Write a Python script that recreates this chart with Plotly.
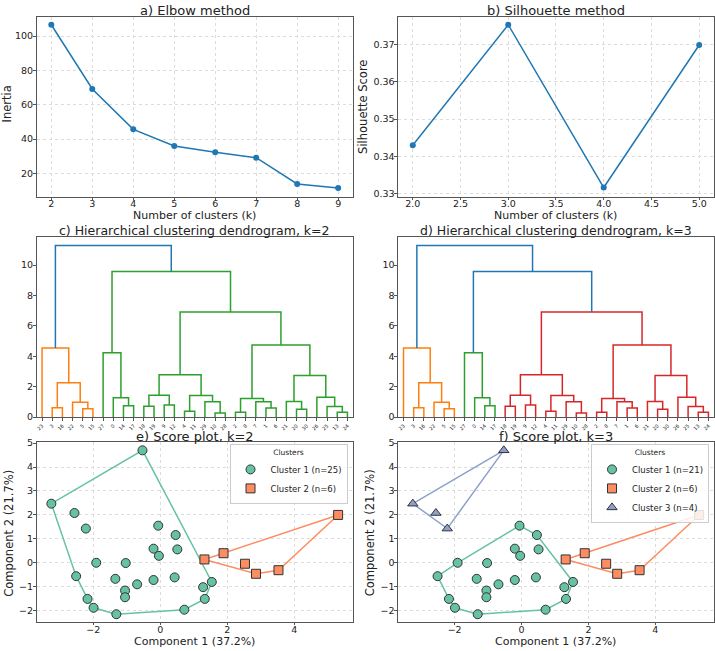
import plotly.graph_objects as go

W, H = 715, 651

# ---------------- data ----------------
# a) Elbow
k_elbow = [2, 3, 4, 5, 6, 7, 8, 9]
inertia = [106.6, 69.2, 45.7, 36.0, 32.4, 29.2, 13.9, 11.5]

# b) Silhouette
k_sil = [2, 3, 4, 5]
silhouette = [0.3430, 0.3752, 0.3317, 0.3698]

# c/d) Dendrogram: leaf order and merges (left id, right id, height);
# ids >= 31 refer to earlier merges (31 + index)
leaf_order = [23, 3, 16, 22, 5, 15, 27, 0, 14, 17, 18, 19, 9, 12, 4, 11, 29, 10, 28,
              2, 8, 7, 1, 6, 21, 20, 30, 26, 25, 13, 24]
merges = [
    (3, 16, 0.62), (5, 15, 0.54), (22, 32, 0.97), (31, 33, 2.25), (23, 34, 4.55),
    (14, 17, 0.75), (0, 36, 1.27), (27, 37, 4.23),
    (18, 19, 0.71), (9, 12, 0.79), (39, 40, 1.44), (4, 11, 0.39), (10, 28, 0.26),
    (29, 43, 1.01), (42, 44, 1.42), (41, 45, 2.79),
    (2, 8, 0.32), (1, 6, 0.60), (7, 48, 1.01), (47, 49, 1.22),
    (20, 30, 0.52), (21, 51, 1.03), (13, 24, 0.32), (25, 53, 0.69), (26, 54, 1.31),
    (52, 55, 2.73), (50, 56, 4.74), (46, 57, 6.91), (38, 58, 9.57), (35, 59, 11.29),
]
thresh_k2 = 10.4
thresh_k3 = 8.2

# e/f) Score plot points (PC1, PC2)
grpA_x = [-1.91, -1.03, -2.51, -1.34, -0.69, -1.05, -1.05, -2.17, -1.99, -1.31, 0.72,
          1.33, 1.28, 1.54, -0.20, 0.43, -0.20, -0.04, 0.51, 0.46, -0.06]
grpA_y = [0.00, -0.01, -0.56, -0.67, -0.90, -1.16, -1.44, -1.51, -1.88, -2.15, -1.96,
          -1.51, -1.02, -0.80, -0.72, -0.61, 0.59, 0.29, 0.56, 1.16, 1.55]
grpB_x = [-0.53, -3.25, -2.56, -2.22]
grpB_y = [4.70, 2.47, 2.08, 1.43]
grpC_x = [1.32, 1.89, 2.53, 2.86, 3.53, 5.31]
grpC_y = [0.14, 0.40, -0.04, -0.46, -0.31, 2.00]

# ---------------- helpers ----------------
FONT = "DejaVu Sans"
def px_x(p): return p / W
def px_y(p): return 1 - p / H

colX = [(px_x(36), px_x(352)), (px_x(398), px_x(713.5))]
rowY = [(px_y(194.5), px_y(11.7)), (px_y(418.5), px_y(235.5)), (px_y(627), px_y(444))]

def hull(xs, ys):
    pts = sorted(set(zip(xs, ys)))
    if len(pts) < 3:
        return pts
    def cross(o, a, b):
        return (a[0]-o[0])*(b[1]-o[1]) - (a[1]-o[1])*(b[0]-o[0])
    lower, upper = [], []
    for p in pts:
        while len(lower) >= 2 and cross(lower[-2], lower[-1], p) <= 0:
            lower.pop()
        lower.append(p)
    for p in reversed(pts):
        while len(upper) >= 2 and cross(upper[-2], upper[-1], p) <= 0:
            upper.pop()
        upper.append(p)
    h = lower[:-1] + upper[:-1]
    return h + [h[0]]

fig = go.Figure()

# a) elbow
fig.add_trace(go.Scatter(x=k_elbow, y=inertia, mode="lines+markers",
                         line=dict(color="#1f77b4", width=1.5),
                         marker=dict(size=6, color="#1f77b4"),
                         xaxis="x", yaxis="y", showlegend=False))
# b) silhouette
fig.add_trace(go.Scatter(x=k_sil, y=silhouette, mode="lines+markers",
                         line=dict(color="#1f77b4", width=1.5),
                         marker=dict(size=6, color="#1f77b4"),
                         xaxis="x2", yaxis="y2", showlegend=False))

# c/d) dendrograms
def dendro(threshold, xa, ya):
    n = len(leaf_order)
    pos = {leaf: 5 + 10 * i for i, leaf in enumerate(leaf_order)}
    hgt = {leaf: 0.0 for leaf in leaf_order}
    children = {}
    for i, (a, b, h) in enumerate(merges):
        nid = n + i
        pos[nid] = (pos[a] + pos[b]) / 2
        hgt[nid] = h
        children[nid] = (a, b)
    root = n + len(merges) - 1
    palette = ["#ff7f0e", "#2ca02c", "#d62728", "#9467bd"]
    color_of = {}
    cidx = [0]
    def walk(node, col):
        if node not in children:
            return
        if col is None and hgt[node] < threshold:
            col = palette[cidx[0]]
            cidx[0] += 1
        color_of[node] = col if col is not None else "#1f77b4"
        a, b = children[node]
        walk(a, col)
        walk(b, col)
    walk(root, None)
    segs = {}
    for nid, (a, b) in children.items():
        c = color_of[nid]
        xs, ys = segs.setdefault(c, ([], []))
        xs += [pos[a], pos[a], pos[b], pos[b], None]
        ys += [hgt[a], hgt[nid], hgt[nid], hgt[b], None]
    for c, (xs, ys) in segs.items():
        fig.add_trace(go.Scatter(x=xs, y=ys, mode="lines",
                                 line=dict(color=c, width=1.5),
                                 xaxis=xa, yaxis=ya, showlegend=False,
                                 hoverinfo="skip"))

dendro(thresh_k2, "x3", "y3")
dendro(thresh_k3, "x4", "y4")

# e/f) score plots
GREEN, ORANGE, BLUE = "#66c2a5", "#fc8d62", "#8da0cb"
def score(groups, xa, ya, legend):
    for name, xs, ys, col, sym in groups:
        hx, hy = zip(*hull(xs, ys))
        fig.add_trace(go.Scatter(x=hx, y=hy, mode="lines",
                                 line=dict(color=col, width=1.5),
                                 xaxis=xa, yaxis=ya, showlegend=False,
                                 hoverinfo="skip"))
    for name, xs, ys, col, sym in groups:
        fig.add_trace(go.Scatter(x=xs, y=ys, mode="markers", name=name,
                                 marker=dict(size=9, color=col, symbol=sym,
                                             line=dict(color="#333333", width=1)),
                                 xaxis=xa, yaxis=ya, legend=legend))

k2_c1x = grpA_x + grpB_x
k2_c1y = grpA_y + grpB_y
score([(f"Cluster 1 (n={len(k2_c1x)})", k2_c1x, k2_c1y, GREEN, "circle"),
       (f"Cluster 2 (n={len(grpC_x)})", grpC_x, grpC_y, ORANGE, "square")],
      "x5", "y5", "legend")
score([(f"Cluster 1 (n={len(grpA_x)})", grpA_x, grpA_y, GREEN, "circle"),
       (f"Cluster 2 (n={len(grpC_x)})", grpC_x, grpC_y, ORANGE, "square"),
       (f"Cluster 3 (n={len(grpB_x)})", grpB_x, grpB_y, BLUE, "triangle-up")],
      "x6", "y6", "legend2")

# ---------------- axes ----------------
def axis(domain, anchor, rng, grid=True, **kw):
    d = dict(domain=list(domain), anchor=anchor, range=rng,
             showline=True, mirror=True, linecolor="#555555", linewidth=1,
             ticks="outside", ticklen=3, tickcolor="#555555",
             zeroline=False, showgrid=grid, gridcolor="#dcdcdc", griddash="dot",
             tickfont=dict(family=FONT, size=9.5, color="#222222"))
    d.update(kw)
    return d

XS = dict(ticklabelstandoff=-4, ticklen=2)
YS = dict(ticklabelstandoff=-2)
layout = dict(
    width=W, height=H, margin=dict(l=0, r=0, t=0, b=0),
    paper_bgcolor="white", plot_bgcolor="white",
    font=dict(family=FONT, color="#222222"),
    xaxis=axis(colX[0], "y", [1.65, 9.35], tickvals=k_elbow, **XS),
    yaxis=axis(rowY[0], "x", [6.6, 111.4], tickvals=[20, 40, 60, 80, 100], **YS),
    xaxis2=axis(colX[1], "y2", [1.85, 5.15], tickvals=[2, 2.5, 3, 3.5, 4, 4.5, 5],
                tickformat=".1f", **XS),
    yaxis2=axis(rowY[0], "x2", [0.3293, 0.3774],
                tickvals=[0.33, 0.34, 0.35, 0.36, 0.37], tickformat=".2f", **YS),
    xaxis5=axis(colX[0], "y5", [-3.68, 5.74], tickvals=[-2, 0, 2, 4], **XS),
    yaxis5=axis(rowY[2], "x5", [-2.49, 5.04], tickvals=list(range(-2, 6)), **YS),
    xaxis6=axis(colX[1], "y6", [-3.68, 5.74], tickvals=[-2, 0, 2, 4], **XS),
    yaxis6=axis(rowY[2], "x6", [-2.49, 5.04], tickvals=list(range(-2, 6)), **YS),
)
leaf_pos = [5 + 10 * i for i in range(len(leaf_order))]
for i, (xa, ya) in enumerate([("xaxis3", "yaxis3"), ("xaxis4", "yaxis4")]):
    n = 3 + i
    layout[xa] = axis(colX[i], f"y{n}", [0, 310], grid=False,
                      tickvals=leaf_pos, ticktext=[str(v) for v in leaf_order],
                      tickangle=-45, tickfont=dict(family=FONT, size=5, color="#222222"))
    layout[ya] = axis(rowY[1], f"x{n}", [0, 11.85], grid=False,
                      tickvals=[0, 2, 4, 6, 8, 10], **YS)

def leg(xp, yp):
    return dict(x=px_x(xp), y=px_y(yp), xanchor="right", yanchor="top",
                xref="paper", yref="paper",
                bgcolor="rgba(255,255,255,0.85)", bordercolor="#cccccc", borderwidth=1,
                font=dict(family=FONT, size=8.5, color="#222222"),
                title=dict(text="Clusters", side="top center",
                           font=dict(family=FONT, size=7.5, color="#222222")),
                tracegroupgap=0, itemwidth=30)
layout["legend"] = leg(347, 446)
layout["legend2"] = leg(709, 446)
fig.update_layout(**layout)

# ---------------- titles (annotations) ----------------
def ann(text, xp, yp, size, angle=0):
    fig.add_annotation(text=text, x=px_x(xp), y=px_y(yp), xref="paper", yref="paper",
                       showarrow=False, textangle=angle, xanchor="center", yanchor="middle",
                       borderpad=0,
                       font=dict(family=FONT, size=size, color="#222222"))

cx1 = (36 + 352) / 2
cx2 = (398 + 713.5) / 2
ann("a) Elbow method", cx1, 5.5, 13)
ann("b) Silhouette method", cx2, 5.5, 13)
ann("c) Hierarchical clustering dendrogram, k=2", cx1, 229, 12.5)
ann("d) Hierarchical clustering dendrogram, k=3", cx2, 229, 12.5)
ann("e) Score plot, k=2", cx1, 438, 13)
ann("f) Score plot, k=3", cx2, 438, 13)
ann("Number of clusters (k)", cx1, 213.5, 11)
ann("Number of clusters (k)", cx2, 213.5, 11)
ann("Component 1 (37.2%)", cx1, 646, 11)
ann("Component 1 (37.2%)", cx2, 646, 11)
ann("Inertia", 6, 100, 11.5, -90)
ann("Silhouette Score", 363, 103, 11.5, -90)
ann("Component 2 (21.7%)", 8, 536, 11.5, -90)
ann("Component 2 (21.7%)", 369, 536, 11.5, -90)

fig.write_html("out.html")
